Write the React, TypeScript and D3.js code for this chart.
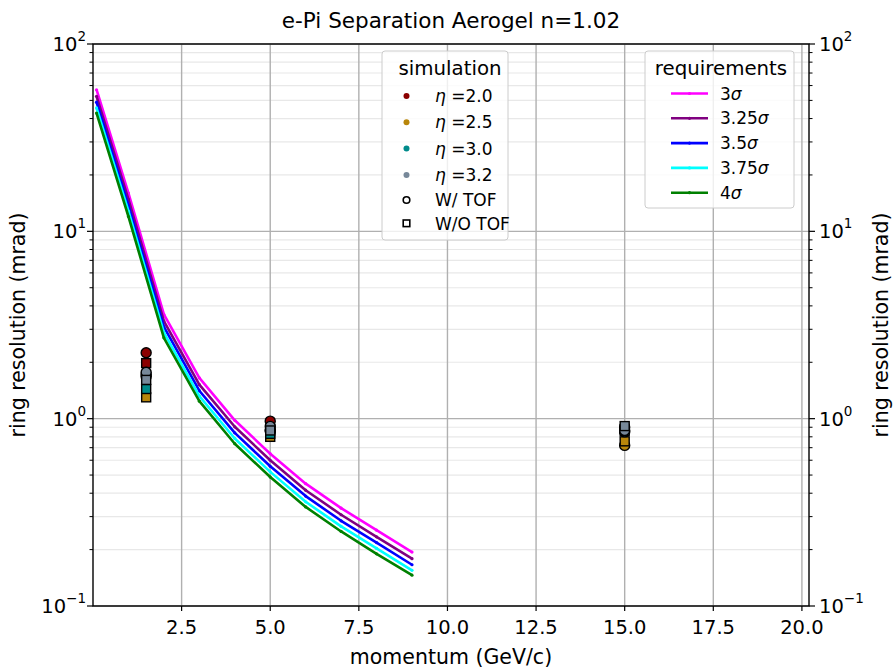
import React from "react";
import * as d3 from "d3";

// Required ring resolution (mrad) vs momentum for each separation level
const momentum = [0.1, 1, 2, 3, 4, 5, 6, 7, 8, 9];
const req3s = [57, 16, 3.6, 1.65, 0.98, 0.65, 0.45, 0.333, 0.254, 0.194];
const req325s = [52.6, 14.8, 3.32, 1.52, 0.905, 0.6, 0.415, 0.307, 0.234, 0.179];
const req35s = [48.9, 13.7, 3.09, 1.41, 0.84, 0.557, 0.386, 0.285, 0.218, 0.166];
const req375s = [45.6, 12.8, 2.88, 1.32, 0.784, 0.52, 0.36, 0.266, 0.203, 0.155];
const req4s = [42.8, 12.0, 2.7, 1.24, 0.735, 0.488, 0.338, 0.25, 0.19, 0.146];
const reqNames = ["3", "3.25", "3.5", "3.75", "4"];
const reqColors = ["#ff00ff", "#800080", "#0000ff", "#00ffff", "#008000"];

// Simulated ring resolution at three momenta
const simMomenta = [1.5, 5, 15];
const etaNames = ["2.0", "2.5", "3.0", "3.2"];
const etaColors = ["#8b0000", "#b8860b", "#008b8b", "#778899"];
const withTofEta20 = [2.25, 0.97, 0.9];
const withoutTofEta20 = [1.98, 0.88, 0.88];
const withTofEta25 = [1.68, 0.86, 0.72];
const withoutTofEta25 = [1.3, 0.8, 0.757];
const withTofEta30 = [1.72, 0.87, 0.85];
const withoutTofEta30 = [1.44, 0.83, 0.86];
const withTofEta32 = [1.77, 0.91, 0.865];
const withoutTofEta32 = [1.61, 0.865, 0.913];

const xTicks = [2.5, 5, 7.5, 10, 12.5, 15, 17.5, 20];
const yMajor = [0.1, 1, 10, 100];
const yMajorExp = ["\u22121", "0", "1", "2"];

const W = 894;
const H = 670;
const L = 93, R = 809, T = 44, B = 606;
const FONT = "DejaVu Sans, sans-serif";

export default function App() {
  const x = d3.scaleLinear().domain([0, 20.2]).range([L, R]);
  const y = d3.scaleLog().domain([0.1, 100]).range([B, T]);

  const yMinor: number[] = [];
  [-1, 0, 1].forEach((k) => {
    for (let m = 2; m <= 9; m++) yMinor.push(m * Math.pow(10, k));
  });

  const reqSeries = [req3s, req325s, req35s, req375s, req4s];
  const simSeries = [
    [withTofEta20, withoutTofEta20],
    [withTofEta25, withoutTofEta25],
    [withTofEta30, withoutTofEta30],
    [withTofEta32, withoutTofEta32],
  ];

  const line = d3
    .line<number>()
    .x((_, i) => x(momentum[i]))
    .y((d) => y(d));

  const gridMajor = "#b0b0b0";
  const gridMinor = "#e8e8e8";
  const tickFont = 19.5;
  const supFont = 13.5;

  return (
    <svg
      width={W}
      height={H}
      style={{ position: "absolute", left: 0, top: 0, background: "#fff" }}
      fontFamily={FONT}
    >
      <rect x={0} y={0} width={W} height={H} fill="#fff" />
      {/* grid */}
      {yMinor.map((v) => (
        <line key={"gm" + v} x1={L} x2={R} y1={y(v)} y2={y(v)} stroke={gridMinor} strokeWidth={1.2} />
      ))}
      {yMajor.map((v) => (
        <line key={"gy" + v} x1={L} x2={R} y1={y(v)} y2={y(v)} stroke={gridMajor} strokeWidth={1.4} />
      ))}
      {xTicks.map((v) => (
        <line key={"gx" + v} x1={x(v)} x2={x(v)} y1={T} y2={B} stroke={gridMajor} strokeWidth={1.4} />
      ))}

      {/* requirement curves */}
      {reqSeries.map((s, i) => (
        <g key={"req" + i}>
          <path d={line(s) || ""} fill="none" stroke={reqColors[i]} strokeWidth={2.6} strokeLinejoin="round" />
          {s.map((v, j) => (
            <circle key={j} cx={x(momentum[j])} cy={y(v)} r={1.6} fill={reqColors[i]} />
          ))}
        </g>
      ))}

      {/* simulation markers */}
      {simSeries.map((pair, i) => (
        <g key={"sim" + i}>
          {simMomenta.map((p, j) => (
            <g key={j}>
              <circle cx={x(p)} cy={y(pair[0][j])} r={5} fill={etaColors[i]} stroke="#000" strokeWidth={1.4} />
              <rect
                x={x(p) - 4.5}
                y={y(pair[1][j]) - 4.5}
                width={9}
                height={9}
                fill={etaColors[i]}
                stroke="#000"
                strokeWidth={1.4}
              />
            </g>
          ))}
        </g>
      ))}

      {/* spines */}
      <rect x={L} y={T} width={R - L} height={B - T} fill="none" stroke="#000" strokeWidth={1.4} />

      {/* x ticks */}
      {xTicks.map((v) => (
        <g key={"xt" + v}>
          <line x1={x(v)} x2={x(v)} y1={B} y2={B + 5} stroke="#000" strokeWidth={1.2} />
          <text x={x(v)} y={B + 28} textAnchor="middle" fontSize={tickFont} fill="#000">
            {d3.format(".1f")(v)}
          </text>
        </g>
      ))}

      {/* y ticks, left and right */}
      {yMinor.map((v) => (
        <g key={"ym" + v}>
          <line x1={L - 3.5} x2={L} y1={y(v)} y2={y(v)} stroke="#000" strokeWidth={1} />
          <line x1={R} x2={R + 3.5} y1={y(v)} y2={y(v)} stroke="#000" strokeWidth={1} />
        </g>
      ))}
      {yMajor.map((v, i) => (
        <g key={"yt" + v}>
          <line x1={L - 6} x2={L} y1={y(v)} y2={y(v)} stroke="#000" strokeWidth={1.2} />
          <line x1={R} x2={R + 6} y1={y(v)} y2={y(v)} stroke="#000" strokeWidth={1.2} />
          <text x={L - 7} y={y(v) + 7} textAnchor="end" fontSize={tickFont} fill="#000">
            10
            <tspan dy={-10} fontSize={supFont}>
              {yMajorExp[i]}
            </tspan>
          </text>
          <text x={R + 10} y={y(v) + 7} textAnchor="start" fontSize={tickFont} fill="#000">
            10
            <tspan dy={-10} fontSize={supFont}>
              {yMajorExp[i]}
            </tspan>
          </text>
        </g>
      ))}

      {/* axis labels and title */}
      <text x={(L + R) / 2} y={664} textAnchor="middle" fontSize={20.5} fill="#000">
        momentum (GeV/c)
      </text>
      <text transform={`translate(25, ${(T + B) / 2}) rotate(-90)`} textAnchor="middle" fontSize={20.5} fill="#000">
        ring resolution (mrad)
      </text>
      <text transform={`translate(888, ${(T + B) / 2}) rotate(-90)`} textAnchor="middle" fontSize={20.5} fill="#000">
        ring resolution (mrad)
      </text>
      <text x={(L + R) / 2} y={28} textAnchor="middle" fontSize={21.5} fill="#000">
        e-Pi Separation Aerogel n=1.02
      </text>

      {/* simulation legend */}
      <g>
        <rect x={382} y={51} width={126} height={189} rx={3} fill="#fff" fillOpacity={0.8} stroke="#ccc" strokeWidth={1} />
        <text x={450} y={75} textAnchor="middle" fontSize={19.8} fill="#000">
          simulation
        </text>
        {etaNames.map((n, i) => (
          <g key={"le" + i}>
            <circle cx={406.5} cy={96 + i * 26.3} r={3} fill={etaColors[i]} />
            <text x={435} y={102 + i * 26.3} fontSize={17} fill="#000">
              <tspan fontStyle="italic">η</tspan>
              {" =" + n}
            </text>
          </g>
        ))}
        <circle cx={406.5} cy={200} r={3.3} fill="none" stroke="#000" strokeWidth={1.6} />
        <text x={435} y={206} fontSize={17} fill="#000">
          W/ TOF
        </text>
        <rect x={403.2} y={220} width={6.6} height={6.6} fill="none" stroke="#000" strokeWidth={1.6} />
        <text x={435} y={229.5} fontSize={17} fill="#000">
          W/O TOF
        </text>
      </g>

      {/* requirements legend */}
      <g>
        <rect x={645} y={51} width={149} height={157} rx={3} fill="#fff" fillOpacity={0.8} stroke="#ccc" strokeWidth={1} />
        <text x={721} y={75} textAnchor="middle" fontSize={19.8} fill="#000">
          requirements
        </text>
        {reqNames.map((n, i) => (
          <g key={"lr" + i}>
            <line x1={671} x2={708} y1={93.5 + i * 24.8} y2={93.5 + i * 24.8} stroke={reqColors[i]} strokeWidth={2.6} />
            <circle cx={689.5} cy={93.5 + i * 24.8} r={1.6} fill={reqColors[i]} />
            <text x={720} y={99.5 + i * 24.8} fontSize={17} fill="#000">
              {n}
              <tspan fontStyle="italic">σ</tspan>
            </text>
          </g>
        ))}
      </g>
    </svg>
  );
}
